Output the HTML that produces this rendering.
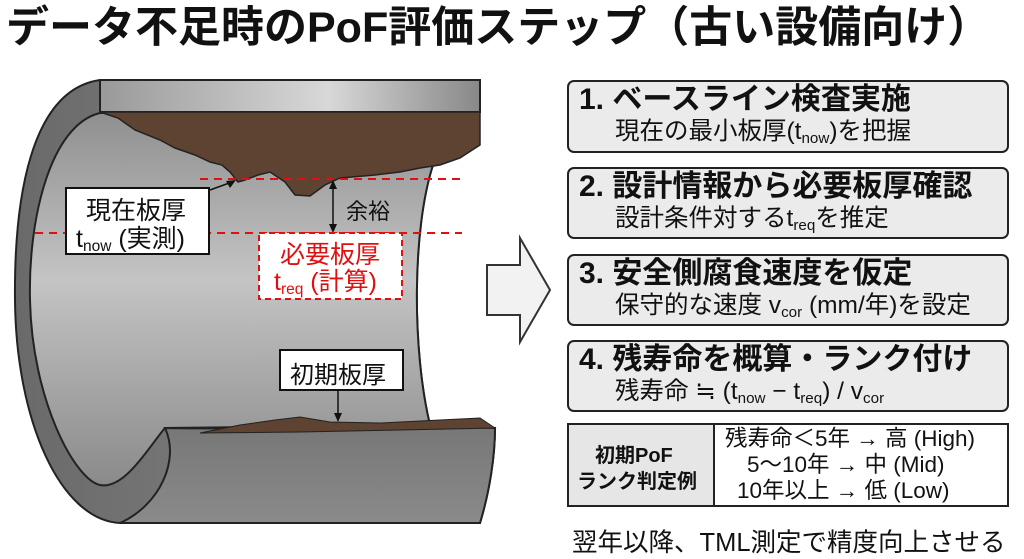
<!DOCTYPE html>
<html><head><meta charset="utf-8"><style>
body{margin:0;width:1024px;height:559px;background:#fff;position:relative;overflow:hidden;font-family:"Liberation Sans","Noto Sans CJK JP",sans-serif;color:#111}
.a{position:absolute;white-space:nowrap}
.title{left:6px;top:2px;font-size:43px;font-weight:bold;letter-spacing:0px;line-height:52px}
.box{position:absolute;left:567px;width:442px;background:#ebebeb;border:2.5px solid #222;border-radius:7px;box-sizing:border-box}
.box .h{position:absolute;left:10px;top:-1px;font-size:30px;font-weight:bold;line-height:38px}
.box .s{position:absolute;left:46px;top:35px;font-size:24.5px;line-height:30px}
sub{font-size:0.62em;vertical-align:-0.25em}
</style></head><body>
<div class="a title">データ不足時のPoF評価ステップ（古い設備向け）</div>

<svg width="1024" height="559" style="position:absolute;left:0;top:0">
<defs>
<linearGradient id="g2" x1="0" y1="0" x2="0" y2="1"><stop offset="0" stop-color="#8f8f8f"/><stop offset="0.45" stop-color="#c4c4c4"/><stop offset="1" stop-color="#8a8a8a"/></linearGradient>
<linearGradient id="g3" x1="0" y1="0" x2="1" y2="0"><stop offset="0" stop-color="#6a6a6a"/><stop offset="1" stop-color="#8a8a8a"/></linearGradient>
<linearGradient id="g4" x1="0" y1="0" x2="1" y2="0"><stop offset="0" stop-color="#999"/><stop offset="0.6" stop-color="#d8d8d8"/><stop offset="1" stop-color="#888"/></linearGradient>
<linearGradient id="g5" x1="0" y1="0" x2="0" y2="1"><stop offset="0" stop-color="#777"/><stop offset="1" stop-color="#8a8a8a"/></linearGradient>
</defs>
<path d="M100,80 C30,90 14,200 15,300 C16,420 60,520 120,523 L480,523 C490,490 495,455 495,428 L430,425 C412,350 412,230 433,165 L480,112 L480,80 Z" fill="url(#g3)" stroke="#222" stroke-width="2"/>
<path d="M100,113 C50,125 28,220 30,300 C32,400 75,480 100,485 C125,490 150,445 165,428 L430,425 C412,350 412,230 433,165 L433,112 Z" fill="url(#g2)" stroke="#222" stroke-width="2"/>
<rect x="100" y="80" width="380" height="32" fill="url(#g4)" stroke="#222" stroke-width="2"/>
<path d="M100,112 L480,112 L480,145 L460,158 L440,165 L420,168 L400,172 L375,175 L340,178 L325,185 L310,196 L295,195 L285,182 L270,172 L258,175 L245,180 L238,182 L230,172 L222,165 L210,162 L195,155 L175,148 L160,140 L135,130 L118,118 Z" fill="#5e4232" stroke="#222" stroke-width="1.5"/>
<path d="M165,428 C180,460 160,505 120,523 L480,523 C490,490 495,455 495,428 C400,425 260,430 165,428 Z" fill="url(#g5)" stroke="#222" stroke-width="2"/>
<path d="M200,433 L240,425 L275,420 L300,417 L330,422 L380,423 L440,420 L480,418 L495,428 L400,430 L300,432 L200,433 Z" fill="#5e4232" stroke="#222" stroke-width="1"/>
<line x1="200" y1="179" x2="462" y2="179" stroke="#e01010" stroke-width="2" stroke-dasharray="8,6"/>
<line x1="35" y1="233" x2="462" y2="233" stroke="#e01010" stroke-width="2" stroke-dasharray="8,6"/>
<line x1="210" y1="190" x2="232" y2="182" stroke="#111" stroke-width="1.5"/>
<polygon points="236,180 226,181 230,188" fill="#111"/>
<line x1="333" y1="186" x2="333" y2="228" stroke="#111" stroke-width="1.5"/>
<polygon points="333,180 329,189 337,189" fill="#111"/>
<polygon points="333,233 329,224 337,224" fill="#111"/>
<line x1="338" y1="390" x2="338" y2="416" stroke="#111" stroke-width="1.5"/>
<polygon points="338,422 334,413 342,413" fill="#111"/>
<rect x="66" y="188" width="143" height="66" fill="#fff" stroke="#111" stroke-width="2"/>
<rect x="259" y="233" width="143" height="66" fill="#fff" stroke="#e01010" stroke-width="2" stroke-dasharray="6,4"/>
<rect x="280" y="350" width="123" height="40" fill="#fff" stroke="#111" stroke-width="2"/>
<polygon points="487,265 520,265 520,238 550,290 520,342 520,315 487,315" fill="#f2f2f2" stroke="#333" stroke-width="2"/>
</svg>

<div class="a" style="left:86px;top:191px;font-size:25px">現在板厚</div>
<div class="a" style="left:76px;top:219px;font-size:25px">t<sub>now</sub> (実測)</div>
<div class="a" style="left:346px;top:194px;font-size:22px">余裕</div>
<div class="a" style="left:280px;top:235px;font-size:25px;color:#e01010">必要板厚</div>
<div class="a" style="left:274px;top:262px;font-size:25px;color:#e01010">t<sub>req</sub> (計算)</div>
<div class="a" style="left:290px;top:355px;font-size:24px">初期板厚</div>

<div class="box" style="top:80px;height:73px"><div class="h">1. ベースライン検査実施</div><div class="s">現在の最小板厚(t<sub>now</sub>)を把握</div></div>
<div class="box" style="top:167px;height:72px"><div class="h">2. 設計情報から必要板厚確認</div><div class="s">設計条件対するt<sub>req</sub>を推定</div></div>
<div class="box" style="top:254px;height:72px"><div class="h">3. 安全側腐食速度を仮定</div><div class="s">保守的な速度 v<sub>cor</sub> (mm/年)を設定</div></div>
<div class="box" style="top:340px;height:72px"><div class="h">4. 残寿命を概算・ランク付け</div><div class="s">残寿命 ≒ (t<sub>now</sub> − t<sub>req</sub>) / v<sub>cor</sub></div></div>

<div style="position:absolute;left:567px;top:423px;width:442px;height:84px;border:2.5px solid #222;box-sizing:border-box;background:#fff">
<div style="position:absolute;left:0;top:0;width:144px;height:100%;background:#e6e6e6;border-right:2px solid #222"></div>
<div class="a" style="left:26px;top:14px;font-size:20px;font-weight:bold">初期PoF</div>
<div class="a" style="left:8px;top:40px;font-size:20px;font-weight:bold">ランク判定例</div>
<div class="a" style="left:156px;top:0px;font-size:22.5px;line-height:27px">残寿命＜5年 → 高 (High)</div>
<div class="a" style="left:178px;top:26px;font-size:22.5px;line-height:27px">5〜10年 → 中 (Mid)</div>
<div class="a" style="left:168px;top:52px;font-size:22.5px;line-height:27px">10年以上 → 低 (Low)</div>
</div>
<div class="a" style="left:572px;top:522px;font-size:25.5px">翌年以降、TML測定で精度向上させる</div>
</body></html>
